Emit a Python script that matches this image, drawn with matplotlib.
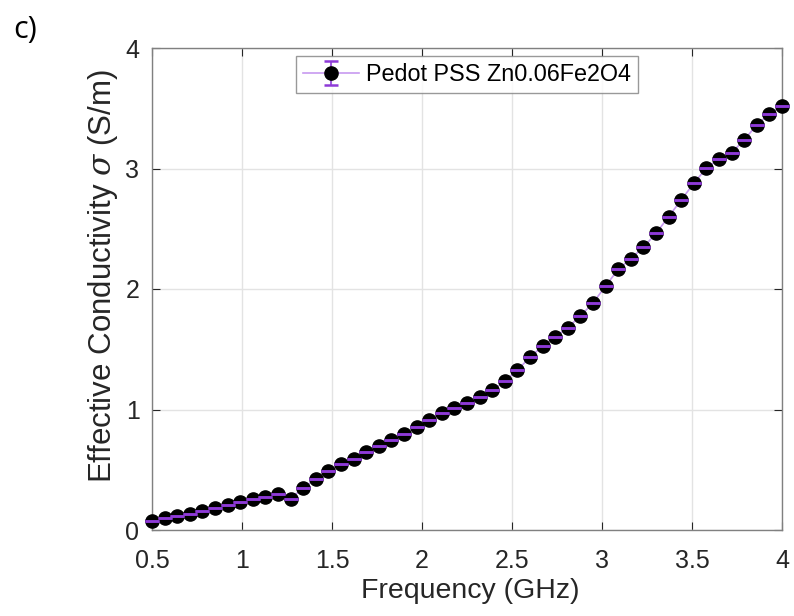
import matplotlib
matplotlib.use("Agg")
import matplotlib.pyplot as plt

freq_ghz = [0.50, 0.57, 0.64, 0.71, 0.78, 0.85, 0.92, 0.99, 1.06, 1.13,
            1.20, 1.27, 1.34, 1.41, 1.48, 1.55, 1.62, 1.69, 1.76, 1.83,
            1.90, 1.97, 2.04, 2.11, 2.18, 2.25, 2.32, 2.39, 2.46, 2.53,
            2.60, 2.67, 2.74, 2.81, 2.88, 2.95, 3.02, 3.09, 3.16, 3.23,
            3.30, 3.37, 3.44, 3.51, 3.58, 3.65, 3.72, 3.79, 3.86, 3.93, 4.00]
sigma = [0.077, 0.097, 0.116, 0.135, 0.160, 0.183, 0.205, 0.235, 0.255, 0.277,
         0.299, 0.260, 0.349, 0.426, 0.492, 0.548, 0.592, 0.650, 0.697, 0.747,
         0.797, 0.855, 0.915, 0.968, 1.015, 1.057, 1.104, 1.159, 1.234, 1.328,
         1.433, 1.527, 1.604, 1.680, 1.776, 1.884, 2.025, 2.163, 2.252, 2.346,
         2.462, 2.600, 2.739, 2.877, 3.004, 3.081, 3.131, 3.237, 3.363, 3.452, 3.521]
sigma_err = [0.004] * len(sigma)

x_ticks = [0.5, 1, 1.5, 2, 2.5, 3, 3.5, 4]
x_tick_labels = ["0.5", "1", "1.5", "2", "2.5", "3", "3.5", "4"]
y_ticks = [0, 1, 2, 3, 4]
y_tick_labels = ["0", "1", "2", "3", "4"]
series_label = "Pedot PSS Zn0.06Fe2O4"

plt.rcParams['font.family'] = ['Liberation Sans', 'DejaVu Sans']
plt.rcParams['mathtext.fontset'] = 'dejavuserif'

fig = plt.figure(figsize=(7.94, 6.16), dpi=100)
ax = fig.add_axes([152/794, 1 - 530/616, (782-152)/794, (530-48)/616])

eb = ax.errorbar(freq_ghz, sigma, yerr=sigma_err, fmt='-o', color='#c79af0',
                 ecolor='#8e3ad8', elinewidth=1.2, capsize=5, capthick=1.8,
                 markerfacecolor='black', markeredgecolor='black', markersize=9.5,
                 linewidth=1.2, label=series_label, zorder=3)
# redraw caps over markers
eb2 = ax.errorbar(freq_ghz, sigma, yerr=[0]*len(sigma), fmt='none', ecolor='#8e3ad8',
                  elinewidth=0, capsize=5, capthick=1.8, zorder=4)
for container in (eb, eb2):
    for art in container.get_children():
        art.set_clip_on(False)

ax.set_xlim(0.5, 4)
ax.set_ylim(0, 4)
ax.set_xticks(x_ticks)
ax.set_xticklabels(x_tick_labels)
ax.set_yticks(y_ticks)
ax.set_yticklabels(y_tick_labels)
ax.tick_params(direction='in', length=6, width=0.8, colors='#262626',
               labelsize=18, top=True, right=True, pad=9)
ax.tick_params(axis='x', pad=14)
for s in ax.spines.values():
    s.set_color('#808080')
    s.set_linewidth(1.0)
ax.grid(True, color='#e3e3e3', linewidth=1.0)
ax.set_axisbelow(True)

ax.set_xlabel("Frequency (GHz)", fontsize=20.5, color='#262626')
ax.xaxis.set_label_coords(0.5 + 3/630, -0.099)
ax.set_ylabel(r"Effective Conductivity $\sigma$ (S/m)", fontsize=22.5,
              color='#262626')
ax.yaxis.set_label_coords(-0.050, 0.526)

leg = ax.legend(loc='upper center', bbox_to_anchor=(0.5, 1 - 8/482), fontsize=16.8,
                frameon=True, fancybox=False, edgecolor='#808080',
                borderpad=0.3, borderaxespad=0, handlelength=2.4,
                handletextpad=0.3)
leg.get_frame().set_linewidth(1.0)

fig.text(13/794, 1 - 30/616, "c)", fontsize=22, ha='left', va='center',
         family=['Open Sans', 'DejaVu Sans'])

fig.savefig("out.png", dpi=100)
